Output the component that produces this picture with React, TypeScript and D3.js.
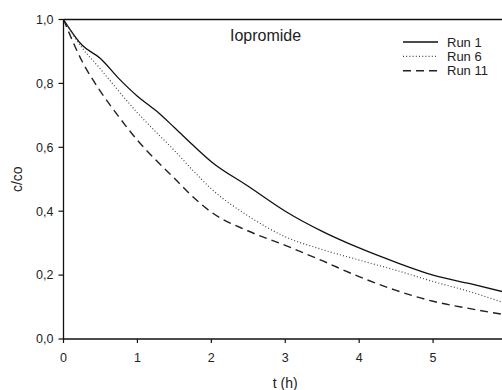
import React from "react";
import * as d3 from "d3";

const times = [0, 0.25, 0.5, 0.75, 1.0, 1.25, 1.5, 1.75, 2.0, 2.5, 3.0, 3.5, 4.0, 4.5, 5.0, 5.5, 6.0];
const run1 = [1.0, 0.92, 0.878, 0.815, 0.76, 0.715, 0.662, 0.607, 0.555, 0.478, 0.4, 0.337, 0.285, 0.24, 0.2, 0.173, 0.145];
const run6 = [1.0, 0.912, 0.845, 0.775, 0.708, 0.648, 0.59, 0.528, 0.47, 0.385, 0.32, 0.28, 0.247, 0.215, 0.18, 0.148, 0.11];
const run11 = [1.0, 0.87, 0.775, 0.695, 0.622, 0.56, 0.503, 0.445, 0.397, 0.338, 0.293, 0.245, 0.195, 0.152, 0.118, 0.095, 0.075];
const seriesNames = ["Run 1", "Run 6", "Run 11"];
const xTicks = [0, 1, 2, 3, 4, 5];
const yTicks = [0, 0.2, 0.4, 0.6, 0.8, 1.0];
const title = "Iopromide";
const xLabel = "t (h)";
const yLabel = "c/co";

const W = 502;
const H = 390;
const font = "'Liberation Sans', Arial, sans-serif";

export default function App() {
  const x = d3.scaleLinear().domain([0, 6]).range([63.5, 507]);
  const y = d3.scaleLinear().domain([0, 1]).range([339, 19.5]);
  const line = d3
    .line<number>()
    .x((_, i) => x(times[i]))
    .y((d) => y(d))
    .curve(d3.curveMonotoneX);
  const styles = [
    { dash: "none", color: "#111", width: 1.3 },
    { dash: "1,2.2", color: "#444", width: 1.2 },
    { dash: "8,5", color: "#222", width: 1.4 },
  ];
  const data = [run1, run6, run11];
  const fmt = (v: number) => v.toFixed(1).replace(".", ",");
  return (
    <svg
      width={W}
      height={H}
      style={{ position: "fixed", left: 0, top: 0, background: "#fff" }}
      fontFamily={font}
    >
      <defs>
        <clipPath id="plot">
          <rect x={x(0)} y={0} width={W - x(0)} height={y(0) + 1} />
        </clipPath>
      </defs>
      <g clipPath="url(#plot)">
        {data.map((d, i) => (
          <path
            key={i}
            d={line(d) || ""}
            fill="none"
            stroke={styles[i].color}
            strokeWidth={styles[i].width}
            strokeDasharray={styles[i].dash}
          />
        ))}
      </g>
      <line x1={x(0)} x2={W} y1={y(1)} y2={y(1)} stroke="#111" strokeWidth={1.3} />
      <line x1={x(0)} x2={x(0)} y1={y(1)} y2={y(0)} stroke="#111" strokeWidth={1.3} />
      <line x1={x(0)} x2={W} y1={y(0)} y2={y(0)} stroke="#111" strokeWidth={1.3} />
      {yTicks.map((t) => (
        <g key={"y" + t}>
          <line x1={x(0) - 5} x2={x(0)} y1={y(t)} y2={y(t)} stroke="#111" strokeWidth={1.2} />
          <text x={x(0) - 10} y={y(t)} dy="0.35em" textAnchor="end" fontSize={12.5} fill="#222">
            {fmt(t)}
          </text>
        </g>
      ))}
      {xTicks.map((t) => (
        <g key={"x" + t}>
          <line x1={x(t)} x2={x(t)} y1={y(0)} y2={y(0) + 4} stroke="#111" strokeWidth={1.2} />
          <text x={x(t)} y={362} textAnchor="middle" fontSize={12.5} fill="#222">
            {t}
          </text>
        </g>
      ))}
      <text x={x(3)} y={388} textAnchor="middle" fontSize={14} fill="#222">
        {xLabel}
      </text>
      <text
        transform={`translate(22, ${(y(0) + y(1)) / 2}) rotate(-90)`}
        textAnchor="middle"
        fontSize={14}
        fill="#222"
      >
        {yLabel}
      </text>
      <text x={230} y={41} fontSize={16} fill="#222">
        {title}
      </text>
      {seriesNames.map((n, i) => {
        const cy = 42 + i * 14.4;
        return (
          <g key={n}>
            <line
              x1={403}
              x2={438}
              y1={cy}
              y2={cy}
              stroke={styles[i].color}
              strokeWidth={styles[i].width}
              strokeDasharray={styles[i].dash}
            />
            <text x={447} y={cy} dy="0.35em" fontSize={13} fill="#222">
              {n}
            </text>
          </g>
        );
      })}
    </svg>
  );
}
